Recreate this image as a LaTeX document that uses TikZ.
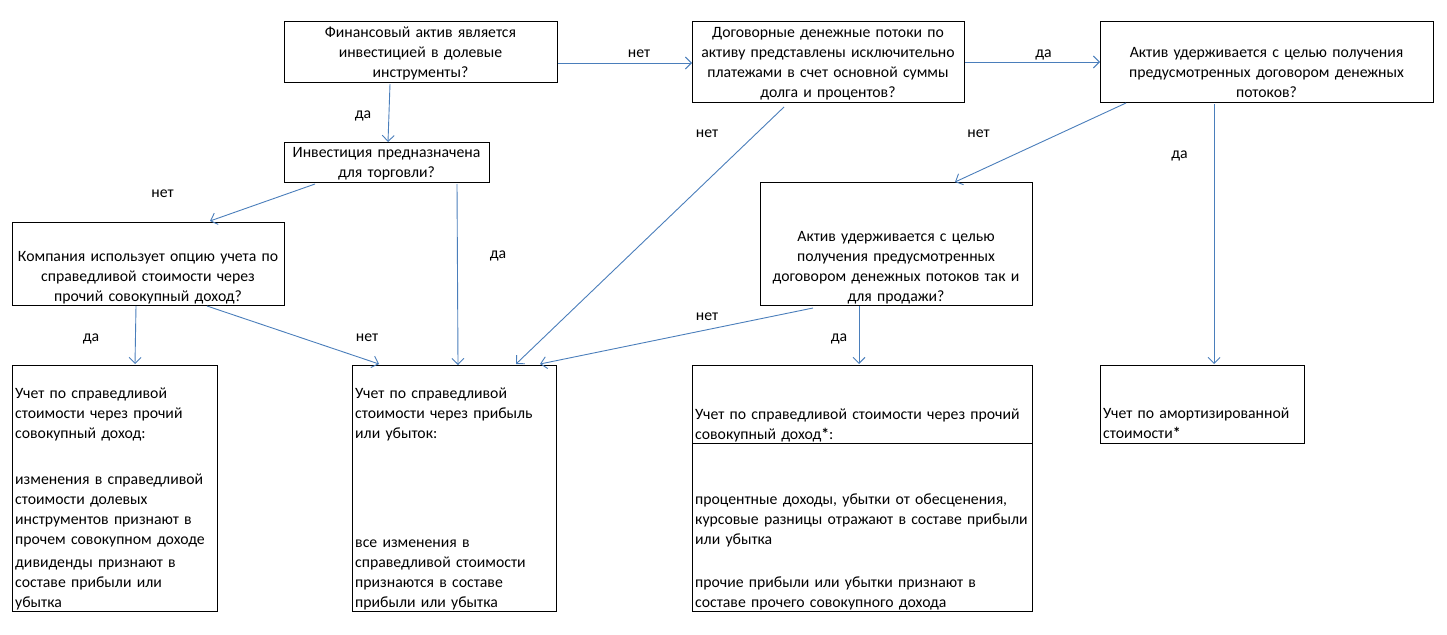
\documentclass[tikz,border=0pt]{standalone}
\usepackage{fontspec}
\setmainfont{Carlito}
\usetikzlibrary{arrows.meta,calc}
\definecolor{arrowblue}{HTML}{4A7EBB}
\begin{document}
\begin{tikzpicture}[x=1pt,y=-1pt,
  box/.style={draw=black,line width=1pt,inner sep=0pt,outer sep=0pt,rectangle},
  ctext/.style={anchor=base,align=center,inner sep=0pt,text width=#1,font=\fontsize{15.75}{20}\selectfont},
  ltext/.style={anchor=base west,align=left,inner sep=0pt,text width=#1,font=\fontsize{15.75}{20}\selectfont},
  lbl/.style={anchor=base,inner sep=0pt,font=\fontsize{15.75}{20}\selectfont},
  conn/.style={draw=arrowblue,line width=0.9pt,-{Straight Barb[length=6pt,width=12pt]}}
]
\useasboundingbox (0,0) rectangle (1447,634);

% boxes
\node[box,minimum width=273pt,minimum height=60pt] (A) at (420.5,52) {};
\node[box,minimum width=272pt,minimum height=80pt] (B) at (828,62) {};
\node[box,minimum width=333pt,minimum height=80pt] (C) at (1266.5,62) {};
\node[box,minimum width=205pt,minimum height=40pt] (D) at (386.5,162) {};
\node[box,minimum width=272pt,minimum height=83pt] (E) at (148,263.5) {};
\node[box,minimum width=272pt,minimum height=123pt] (F) at (896,243.5) {};
\node[box,minimum width=205pt,minimum height=246pt] (G) at (114.5,488) {};
\node[box,minimum width=204pt,minimum height=246pt] (H) at (454,488) {};
\node[box,minimum width=340pt,minimum height=246pt] (I) at (862,488) {};
\node[box,minimum width=204pt,minimum height=78pt] (J) at (1202,404) {};
\draw[line width=1pt] ($(I.north west)+(0,78)$) -- ($(I.north east)+(0,78)$);

% texts
\node[ctext=320pt] (At) at (420.5,37.5) {Финансовый актив является\\инвестицией в долевые\\инструменты?};
\node[ctext=320pt] (Bt) at (828,37.5) {Договорные денежные потоки по\\активу представлены исключительно\\платежами в счет основной суммы\\долга и процентов?};
\node[ctext=380pt] (Ct) at (1266.5,57.5) {Актив удерживается с целью получения\\предусмотренных договором денежных\\потоков?};
\node[ctext=260pt] (Dt) at (386.5,157.5) {Инвестиция предназначена\\для торговли?};
\node[ctext=320pt] (Et) at (148,261) {Компания использует опцию учета по\\справедливой стоимости через\\прочий совокупный доход?};
\node[ctext=320pt] (Ft) at (896,241) {Актив удерживается с целью\\получения предусмотренных\\договором денежных потоков так и\\для продажи?};

\node[ltext=240pt] (Gt1) at (15,398.5) {Учет по справедливой\\стоимости через прочий\\совокупный доход:};
\node[ltext=240pt] (Gt2) at (15,484) {изменения в справедливой\\стоимости долевых\\инструментов признают в\\прочем совокупном доходе};
\node[ltext=240pt] (Gt3) at (15,567) {дивиденды признают в\\составе прибыли или\\убытка};

\node[ltext=240pt] (Ht1) at (355,398.5) {Учет по справедливой\\стоимости через прибыль\\или убыток:};
\node[ltext=240pt] (Ht2) at (355,547) {все изменения в\\справедливой стоимости\\признаются в составе\\прибыли или убытка};

\node[ltext=380pt] (It1) at (695,419) {Учет по справедливой стоимости через прочий\\совокупный доход\textbf{*}:};
\node[ltext=380pt] (It2) at (695,504) {процентные доходы, убытки от обесценения,\\курсовые разницы отражают в составе прибыли\\или убытка};
\node[ltext=380pt] (It3) at (695,587) {прочие прибыли или убытки признают в\\составе прочего совокупного дохода};

\node[ltext=240pt] (Jt) at (1103,418) {Учет по амортизированной\\стоимости\textbf{*}};

% connectors
\draw[conn] ($(A.north east)+(1,41)$) -- ($(B.north west)+(0,41)$);
\draw[conn] ($(B.north east)+(1,40)$) -- ($(C.north west)+(0,40)$);
\draw[conn] ($(A.south west)+(106,2)$) -- ($(D.north west)+(104,0)$);
\draw[conn] ($(D.south west)+(31,2)$) -- ($(E.north west)+(198,-1)$);
\draw[conn] ($(D.south west)+(173,2)$) -- ($(H.north west)+(106,0)$);
\draw[conn] ($(E.south west)+(124,1)$) -- ($(G.north west)+(123,-1)$);
\draw[conn] ($(E.south west)+(195,1)$) -- ($(H.north west)+(27,-1)$);
\draw[conn] ($(B.south west)+(92,5)$) -- ($(H.north west)+(164,-1)$);
\draw[conn] ($(C.south west)+(26,1)$) -- ($(F.north west)+(195,0)$);
\draw[conn] ($(F.south west)+(53,3)$) -- ($(H.north west)+(188,-1)$);
\draw[conn] ($(F.south west)+(99,1)$) -- ($(I.north west)+(167,-1)$);
\draw[conn] ($(C.south west)+(114,2)$) -- ($(J.north west)+(114,-1)$);

% labels
\node[lbl] (l1) at (639,57.5) {нет};
\node[lbl] (l2) at (1043.5,57.5) {да};
\node[lbl] (l3) at (363,118) {да};
\node[lbl] (l4) at (162.5,197) {нет};
\node[lbl] (l5) at (498,258) {да};
\node[lbl] (l6) at (707,137.5) {нет};
\node[lbl] (l7) at (978.5,137.5) {нет};
\node[lbl] (l8) at (1179.5,158) {да};
\node[lbl] (l9) at (707,320.5) {нет};
\node[lbl] (l10) at (839,341) {да};
\node[lbl] (l11) at (91,341) {да};
\node[lbl] (l12) at (367,341) {нет};
\end{tikzpicture}
\end{document}
